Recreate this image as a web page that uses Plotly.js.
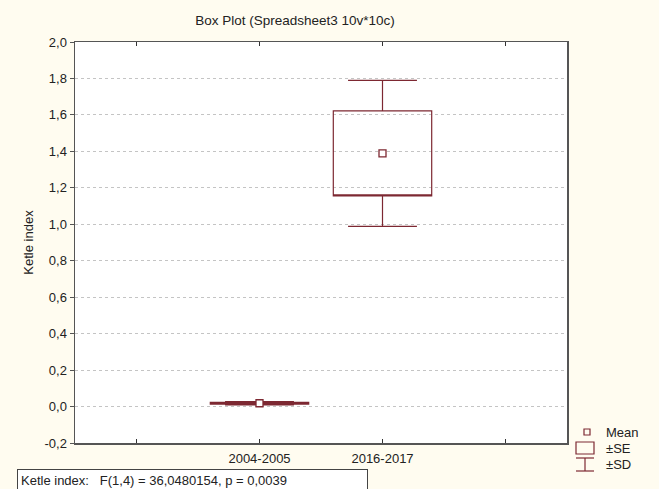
<!DOCTYPE html>
<html>
<head>
<meta charset="utf-8">
<script src="https://cdn.plot.ly/plotly-3.0.1.min.js"></script>
<style>html,body{margin:0;padding:0;background:#fffcf0;}#chart{width:659px;height:489px;}</style>
</head>
<body>
<div id="chart"></div>
<script>
// ---- data ----
var categories = ['2004-2005', '2016-2017'];
var categoryPos = [1, 2];
var means = [0.018, 1.389];
var se = [0.005, 0.233];
var sd = [0.009, 0.400];
var yTickVals = [-0.2, 0.0, 0.2, 0.4, 0.6, 0.8, 1.0, 1.2, 1.4, 1.6, 1.8, 2.0];
var yTickText = ['-0,2', '0,0', '0,2', '0,4', '0,6', '0,8', '1,0', '1,2', '1,4', '1,6', '1,8', '2,0'];
var statText = 'Ketle index:&nbsp;&nbsp;&nbsp;F(1,4) = 36,0480154, p = 0,0039';

var lineCol = '#7d2832';
var FONT = 'Liberation Sans, Arial, sans-serif';
var FS = 13;

// plot area in pixels (for decorations)
var L = 75, R = 567, T = 42, B = 443;
function px(x) { return (x - L) / (R - L); }
function py(y) { return (B - y) / (B - T); }

var q1 = means.map(function (m, i) { return m - se[i]; });
var q3 = means.map(function (m, i) { return m + se[i]; });
var lo = means.map(function (m, i) { return m - sd[i]; });
var hi = means.map(function (m, i) { return m + sd[i]; });

var boxTrace = {
  type: 'box',
  x: categoryPos,
  q1: q1, q3: q3, median: q1,
  lowerfence: lo, upperfence: hi,
  width: 0.8,
  whiskerwidth: 0.7,
  boxpoints: false,
  fillcolor: 'rgba(255,255,255,0)',
  line: { color: lineCol, width: 1.2 },
  hoverinfo: 'skip',
  showlegend: false
};

var meanTrace = {
  type: 'scatter', mode: 'markers',
  x: categoryPos, y: means,
  marker: { symbol: 'square', size: 7, color: '#ffffff', line: { color: lineCol, width: 1.3 } },
  hoverinfo: 'skip', showlegend: false
};

var shapes = [
  // legend: Mean
  { type: 'rect', xref: 'paper', yref: 'paper', x0: px(584), x1: px(590), y0: py(435), y1: py(429), line: { color: lineCol, width: 1.2 }, fillcolor: '#fffcf0' },
  // legend: SE box
  { type: 'rect', xref: 'paper', yref: 'paper', x0: px(576), x1: px(594), y0: py(454), y1: py(442), line: { color: lineCol, width: 1.2 } },
  // legend: SD whisker
  { type: 'line', xref: 'paper', yref: 'paper', x0: px(576), x1: px(594), y0: py(458), y1: py(458), line: { color: lineCol, width: 1.2 } },
  { type: 'line', xref: 'paper', yref: 'paper', x0: px(585), x1: px(585), y0: py(458), y1: py(471), line: { color: lineCol, width: 1.2 } },
  { type: 'line', xref: 'paper', yref: 'paper', x0: px(576), x1: px(594), y0: py(471), y1: py(471), line: { color: lineCol, width: 1.2 } }
];

var annotations = [
  { xref: 'paper', yref: 'paper', x: px(604), y: py(432), xanchor: 'left', yanchor: 'middle', text: 'Mean', showarrow: false, font: { family: FONT, size: FS, color: '#222' } },
  { xref: 'paper', yref: 'paper', x: px(604), y: py(448), xanchor: 'left', yanchor: 'middle', text: '\u00B1SE', showarrow: false, font: { family: FONT, size: FS, color: '#222' } },
  { xref: 'paper', yref: 'paper', x: px(604), y: py(464), xanchor: 'left', yanchor: 'middle', text: '\u00B1SD', showarrow: false, font: { family: FONT, size: FS, color: '#222' } },
  { xref: 'paper', yref: 'paper', x: px(17), y: py(469), xanchor: 'left', yanchor: 'top', text: statText, showarrow: false, align: 'left', valign: 'top',
    width: 343, height: 30, borderpad: 3, bordercolor: '#444', borderwidth: 1, bgcolor: '#ffffff',
    font: { family: FONT, size: FS, color: '#222' } }
];

var layout = {
  width: 659, height: 489,
  margin: { l: L, r: 659 - R, t: T, b: 489 - B, pad: 0 },
  paper_bgcolor: '#fffcf0',
  plot_bgcolor: '#ffffff',
  font: { family: FONT, size: FS, color: '#222' },
  title: { text: 'Box Plot (Spreadsheet3 10v*10c)', x: 295 / 659, xanchor: 'center', y: 1 - 20 / 489, yanchor: 'middle', font: { family: FONT, size: 13.5, color: '#222' } },
  showlegend: false,
  xaxis: {
    range: [-0.5, 3.5], tickvals: [0, 1, 2, 3], ticktext: [''].concat(categories).concat(['']),
    ticks: 'inside', ticklen: 4, tickcolor: '#333', showline: true, linecolor: '#555', linewidth: 1.5,
    mirror: 'ticks', showgrid: false, zeroline: false, fixedrange: true, ticklabelstandoff: 3,
    tickfont: { family: FONT, size: FS, color: '#222' }
  },
  yaxis: {
    range: [-0.2, 2.0], tickvals: yTickVals, ticktext: yTickText,
    ticks: 'outside', ticklen: 4, tickcolor: '#555', showline: true, linecolor: '#555', linewidth: 1.5,
    mirror: true, showgrid: true, gridcolor: '#c4c4c4', griddash: 'dot', gridwidth: 1, zeroline: false, fixedrange: true,
    tickfont: { family: FONT, size: FS, color: '#222' },
    title: { text: 'Ketle index', standoff: 8, font: { family: FONT, size: FS, color: '#222' } }
  },
  shapes: shapes,
  annotations: annotations
};

Plotly.newPlot('chart', [boxTrace, meanTrace], layout, { displayModeBar: false, staticPlot: true });
</script>
</body>
</html>
